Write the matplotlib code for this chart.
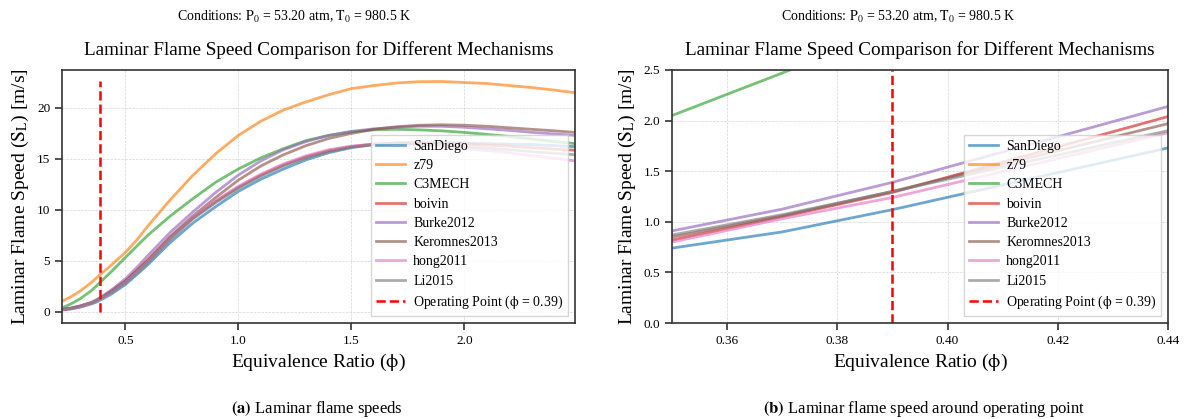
import matplotlib
matplotlib.use("Agg")
import matplotlib.pyplot as plt
import matplotlib.ticker as mticker

plt.rcParams["font.family"] = ["Liberation Serif", "DejaVu Serif"]
plt.rcParams["mathtext.fontset"] = "stix"

# Equivalence ratio grid
phi = [0.22, 0.26, 0.30, 0.35, 0.37, 0.39, 0.44, 0.50, 0.55, 0.60,
       0.70, 0.80, 0.90, 1.00, 1.10, 1.20, 1.30, 1.40, 1.50, 1.60,
       1.70, 1.80, 1.90, 2.00, 2.10, 2.20, 2.30, 2.40, 2.49]

mechanisms = ["SanDiego", "z79", "C3MECH", "boivin", "Burke2012",
              "Keromnes2013", "hong2011", "Li2015"]

# Laminar flame speeds [m/s] per mechanism
sl_sandiego = [0.15, 0.25, 0.42, 0.74, 0.90, 1.12, 1.73, 2.65, 3.6, 4.6,
               6.8, 8.7, 10.3, 11.8, 13.0, 14.0, 14.9, 15.6, 16.1, 16.4,
               16.55, 16.6, 16.6, 16.55, 16.5, 16.45, 16.4, 16.3, 16.2]
sl_z79 = [1.0, 1.45, 2.0, 2.85, 3.25, 3.65, 4.6, 5.8, 7.0, 8.4,
          11.0, 13.4, 15.5, 17.3, 18.7, 19.8, 20.6, 21.3, 21.9, 22.2,
          22.45, 22.58, 22.6, 22.5, 22.4, 22.2, 22.0, 21.75, 21.5]
sl_c3mech = [0.35, 0.75, 1.25, 2.05, 2.47, 2.9, 3.95, 5.3, 6.4, 7.5,
             9.4, 11.1, 12.7, 14.0, 15.1, 16.0, 16.8, 17.3, 17.65, 17.85,
             17.9, 17.85, 17.75, 17.6, 17.4, 17.2, 16.95, 16.7, 16.5]
sl_boivin = [0.18, 0.30, 0.50, 0.82, 1.05, 1.29, 2.04, 3.0, 4.0, 5.0,
             7.3, 9.2, 10.8, 12.2, 13.4, 14.4, 15.2, 15.8, 16.2, 16.45,
             16.55, 16.55, 16.5, 16.45, 16.35, 16.25, 16.1, 15.95, 15.85]
sl_burke = [0.22, 0.35, 0.56, 0.91, 1.125, 1.39, 2.14, 3.2, 4.3, 5.5,
            7.8, 9.8, 11.7, 13.4, 14.8, 15.9, 16.7, 17.3, 17.7, 17.95,
            18.1, 18.2, 18.2, 18.1, 17.95, 17.8, 17.6, 17.45, 17.3]
sl_keromnes = [0.20, 0.32, 0.52, 0.85, 1.06, 1.30, 1.97, 2.95, 4.0, 5.1,
               7.4, 9.4, 11.2, 12.9, 14.3, 15.4, 16.3, 17.0, 17.5, 17.9,
               18.15, 18.3, 18.35, 18.3, 18.2, 18.05, 17.9, 17.75, 17.6]
sl_hong = [0.15, 0.27, 0.45, 0.80, 1.03, 1.24, 1.88, 2.85, 3.85, 4.9,
           7.2, 9.2, 10.9, 12.3, 13.5, 14.5, 15.3, 15.9, 16.25, 16.45,
           16.5, 16.4, 16.25, 16.0, 15.8, 15.6, 15.3, 15.05, 14.8]
sl_li = [0.20, 0.32, 0.52, 0.87, 1.07, 1.30, 1.90, 2.8, 3.75, 4.8,
         7.1, 9.1, 10.7, 12.1, 13.3, 14.3, 15.1, 15.7, 16.15, 16.4,
         16.5, 16.45, 16.35, 16.2, 16.05, 15.9, 15.7, 15.55, 15.4]

speeds = [sl_sandiego, sl_z79, sl_c3mech, sl_boivin, sl_burke,
          sl_keromnes, sl_hong, sl_li]

phi_op = 0.39
p0_atm = 53.20
t0_k = 980.5

colors = plt.get_cmap("tab10").colors

fig = plt.figure(figsize=(11.89, 4.19), dpi=100)
W, H = 1189, 419
ax_a = fig.add_axes([62 / W, (H - 323) / H, 513 / W, 253 / H])
ax_b = fig.add_axes([672 / W, (H - 323) / H, 496 / W, 253 / H])

cond_text = rf"Conditions: $\mathrm{{P_0}}$ = {p0_atm:.2f} atm, $\mathrm{{T_0}}$ = {t0_k:.1f} K"
title_text = "Laminar Flame Speed Comparison for Different Mechanisms"
ylabel_text = r"Laminar Flame Speed ($\mathrm{S_L}$) [m/s]"
xlabel_text = r"Equivalence Ratio ($\mathrm{\phi}$)"
op_label = rf"Operating Point ($\mathrm{{\phi}}$ = {phi_op:.2f})"

for ax in (ax_a, ax_b):
    for name, sl, c in zip(mechanisms, speeds, colors):
        ax.plot(phi, sl, color=c, lw=2.0, alpha=0.65, label=name)
    ax.grid(True, color="#cccccc", linestyle="--", linewidth=0.5, alpha=0.8)
    ax.set_xlabel(xlabel_text, fontsize=14, labelpad=4)
    ax.set_ylabel(ylabel_text, fontsize=14, labelpad=4)
    ax.set_title(title_text, fontsize=13.8, pad=11)
    ax.tick_params(direction="out", length=5, width=1.2, colors="#333333",
                   labelcolor="black", labelsize=9.5)
    for s in ax.spines.values():
        s.set_color("#333333")
        s.set_linewidth(1.2)

# Full range with operating point marker up to the highest speed
ymax = max(max(s) for s in speeds)
ax_a.vlines(phi_op, 0, ymax, colors="red", linestyles="--", lw=1.8,
            label=op_label)
ax_a.set_xlim(phi[0], phi[-1])
ax_a.set_xticks([0.5, 1.0, 1.5, 2.0])
ax_a.set_yticks([0, 5, 10, 15, 20])

# Zoom around the operating point
ax_b.axvline(phi_op, color="red", linestyle="--", lw=1.8, label=op_label)
ax_b.set_xlim(0.35, 0.44)
ax_b.set_ylim(0.0, 2.5)
ax_b.set_xticks([0.36, 0.38, 0.40, 0.42, 0.44])
ax_b.set_yticks([0.0, 0.5, 1.0, 1.5, 2.0, 2.5])
ax_b.xaxis.set_major_formatter(mticker.FormatStrFormatter("%.2f"))
ax_b.yaxis.set_major_formatter(mticker.FormatStrFormatter("%.1f"))

for ax in (ax_a, ax_b):
    leg = ax.legend(loc="lower right", fontsize=10, framealpha=0.8,
                    edgecolor="#cccccc", fancybox=False, handlelength=2.1,
                    handletextpad=0.6, borderpad=0.35, labelspacing=0.45)
    leg.get_frame().set_linewidth(1.0)

fig.text(294 / W, 1 - 17 / H, cond_text, ha="center", va="center", fontsize=10)
fig.text(898 / W, 1 - 17 / H, cond_text, ha="center", va="center", fontsize=10)

fig.text(317 / W, 1 - 409 / H, r"$\mathbf{(a)}$ Laminar flame speeds",
         ha="center", va="center", fontsize=12)
fig.text(924 / W, 1 - 409 / H,
         r"$\mathbf{(b)}$ Laminar flame speed around operating point",
         ha="center", va="center", fontsize=12)

fig.savefig("out.png", dpi=100)
